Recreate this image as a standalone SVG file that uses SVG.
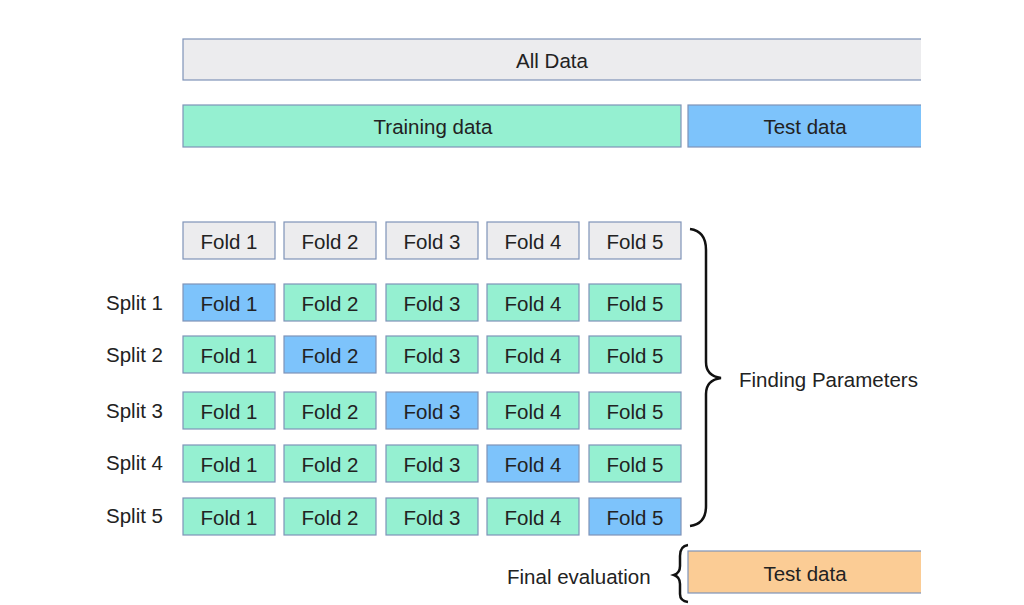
<svg xmlns="http://www.w3.org/2000/svg" width="1024" height="605" viewBox="0 0 1024 605">
<style>
.b{stroke:#7f93b8;stroke-width:1.2}
.g{fill:#ececee}.t{fill:#95f0d1}.u{fill:#7dc3fb}.o{fill:#fbcc95}
text{font-family:"Liberation Sans",Arial,sans-serif;font-size:20.5px;fill:#222;dominant-baseline:central}
.c{text-anchor:middle}
.br{fill:none;stroke:#111;stroke-width:2.5}
</style>
<rect width="1024" height="605" fill="#fff"/>
<g id="all"><rect class="b g" x="183" y="39" width="745" height="41"/><text class="c" x="552" y="60">All Data</text></g>
<g id="train"><rect class="b t" x="183" y="105" width="498" height="42"/><text class="c" x="433" y="126">Training data</text></g>
<g id="test"><rect class="b u" x="688" y="105" width="240" height="42"/><text class="c" x="805" y="126">Test data</text></g>
<rect x="921" y="30" width="103" height="130" fill="#fff"/>
<g id="folds">
<g id="f0">
<rect class="b g" x="183" y="222" width="92" height="37"/><text class="c" x="229" y="241">Fold 1</text>
<rect class="b g" x="284" y="222" width="92" height="37"/><text class="c" x="330" y="241">Fold 2</text>
<rect class="b g" x="386" y="222" width="92" height="37"/><text class="c" x="432" y="241">Fold 3</text>
<rect class="b g" x="487" y="222" width="92" height="37"/><text class="c" x="533" y="241">Fold 4</text>
<rect class="b g" x="589" y="222" width="92" height="37"/><text class="c" x="635" y="241">Fold 5</text>
</g>
<g id="s1"><text x="106" y="302">Split 1</text>
<rect class="b u" x="183" y="284" width="92" height="37"/><text class="c" x="229" y="303">Fold 1</text>
<rect class="b t" x="284" y="284" width="92" height="37"/><text class="c" x="330" y="303">Fold 2</text>
<rect class="b t" x="386" y="284" width="92" height="37"/><text class="c" x="432" y="303">Fold 3</text>
<rect class="b t" x="487" y="284" width="92" height="37"/><text class="c" x="533" y="303">Fold 4</text>
<rect class="b t" x="589" y="284" width="92" height="37"/><text class="c" x="635" y="303">Fold 5</text></g>
<g id="s2"><text x="106" y="354">Split 2</text>
<rect class="b t" x="183" y="336" width="92" height="37"/><text class="c" x="229" y="355">Fold 1</text>
<rect class="b u" x="284" y="336" width="92" height="37"/><text class="c" x="330" y="355">Fold 2</text>
<rect class="b t" x="386" y="336" width="92" height="37"/><text class="c" x="432" y="355">Fold 3</text>
<rect class="b t" x="487" y="336" width="92" height="37"/><text class="c" x="533" y="355">Fold 4</text>
<rect class="b t" x="589" y="336" width="92" height="37"/><text class="c" x="635" y="355">Fold 5</text></g>
<g id="s3"><text x="106" y="410">Split 3</text>
<rect class="b t" x="183" y="392" width="92" height="37"/><text class="c" x="229" y="411">Fold 1</text>
<rect class="b t" x="284" y="392" width="92" height="37"/><text class="c" x="330" y="411">Fold 2</text>
<rect class="b u" x="386" y="392" width="92" height="37"/><text class="c" x="432" y="411">Fold 3</text>
<rect class="b t" x="487" y="392" width="92" height="37"/><text class="c" x="533" y="411">Fold 4</text>
<rect class="b t" x="589" y="392" width="92" height="37"/><text class="c" x="635" y="411">Fold 5</text></g>
<g id="s4"><text x="106" y="462">Split 4</text>
<rect class="b t" x="183" y="445" width="92" height="37"/><text class="c" x="229" y="464">Fold 1</text>
<rect class="b t" x="284" y="445" width="92" height="37"/><text class="c" x="330" y="464">Fold 2</text>
<rect class="b t" x="386" y="445" width="92" height="37"/><text class="c" x="432" y="464">Fold 3</text>
<rect class="b u" x="487" y="445" width="92" height="37"/><text class="c" x="533" y="464">Fold 4</text>
<rect class="b t" x="589" y="445" width="92" height="37"/><text class="c" x="635" y="464">Fold 5</text></g>
<g id="s5"><text x="106" y="515">Split 5</text>
<rect class="b t" x="183" y="498" width="92" height="37"/><text class="c" x="229" y="517">Fold 1</text>
<rect class="b t" x="284" y="498" width="92" height="37"/><text class="c" x="330" y="517">Fold 2</text>
<rect class="b t" x="386" y="498" width="92" height="37"/><text class="c" x="432" y="517">Fold 3</text>
<rect class="b t" x="487" y="498" width="92" height="37"/><text class="c" x="533" y="517">Fold 4</text>
<rect class="b u" x="589" y="498" width="92" height="37"/><text class="c" x="635" y="517">Fold 5</text></g>
</g>
<g id="connectors">
<path class="br" d="M690 229 Q706 231 706 250 L706 362 Q706 376 721 378 Q706 380 706 394 L706 506 Q706 524 690 526"/>
<path class="br" d="M688 545 Q680 546 680 556 L680 566 Q680 573 674 575 Q680 577 680 584 L680 594 Q680 601 688 602"/>
</g>
<g id="fp"><text x="739" y="379">Finding Parameters</text></g>
<g id="final"><text x="507" y="576">Final evaluation</text>
<rect class="b o" x="688" y="551" width="240" height="42"/><text class="c" x="805" y="573">Test data</text></g>
<rect x="921" y="30" width="103" height="575" fill="#fff"/>
</svg>
